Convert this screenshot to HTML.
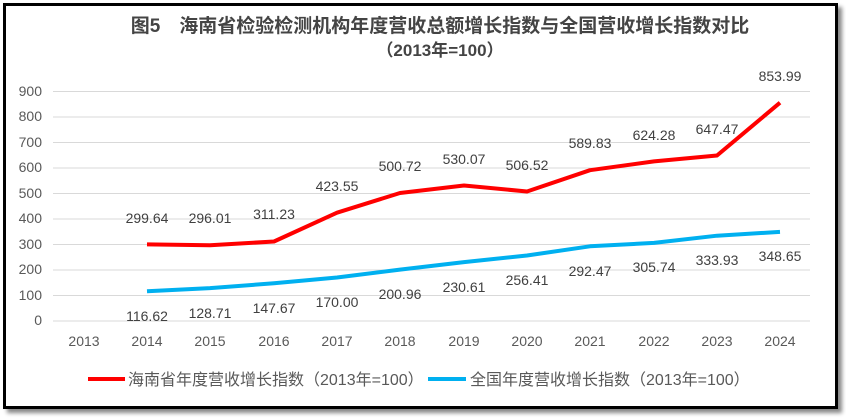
<!DOCTYPE html><html><head><meta charset="utf-8"><style>
body{margin:0;background:#fff;width:846px;height:419px;overflow:hidden}
.frame{position:absolute;left:3px;top:3px;width:829px;height:400px;border:3px solid #000;box-shadow:4px 4px 4px #888;background:#fff}
svg{position:absolute;left:0;top:0}
text{font-family:"Liberation Sans","Noto Sans CJK SC",sans-serif}
</style></head><body><div class="frame"></div>
<svg width="846" height="419">
<text x="440" y="32" text-anchor="middle" font-size="19" font-weight="bold" fill="#444" font-family="'Noto Serif CJK SC',serif">图5　海南省检验检测机构年度营收总额增长指数与全国营收增长指数对比</text>
<text x="440" y="56" text-anchor="middle" font-size="17" font-weight="bold" fill="#444" font-family="'Noto Serif CJK SC',serif">（2013年=100）</text>
<g stroke="#d9d9d9" stroke-width="1">
<line x1="53" x2="810" y1="91.5" y2="91.5"/><line x1="53" x2="810" y1="117" y2="117"/><line x1="53" x2="810" y1="142.5" y2="142.5"/><line x1="53" x2="810" y1="168" y2="168"/><line x1="53" x2="810" y1="193.5" y2="193.5"/><line x1="53" x2="810" y1="219" y2="219"/><line x1="53" x2="810" y1="244.5" y2="244.5"/><line x1="53" x2="810" y1="270" y2="270"/><line x1="53" x2="810" y1="295.5" y2="295.5"/><line x1="53" x2="810" y1="321" y2="321"/>
</g>
<g font-size="14" fill="#595959" text-anchor="end">
<text x="42" y="96">900</text><text x="42" y="121">800</text><text x="42" y="147">700</text><text x="42" y="172">600</text><text x="42" y="198">500</text><text x="42" y="223">400</text><text x="42" y="249">300</text><text x="42" y="274">200</text><text x="42" y="300">100</text><text x="42" y="325">0</text>
</g>
<g font-size="14" fill="#595959" text-anchor="middle">
<text x="84" y="346">2013</text><text x="147" y="346">2014</text><text x="210" y="346">2015</text><text x="274" y="346">2016</text><text x="337" y="346">2017</text><text x="400" y="346">2018</text><text x="464" y="346">2019</text><text x="527" y="346">2020</text><text x="590" y="346">2021</text><text x="654" y="346">2022</text><text x="717" y="346">2023</text><text x="780" y="346">2024</text>
</g>
<polyline fill="none" stroke="#ff0000" stroke-width="4" stroke-linejoin="round" points="147,244.4 210,245.3 274,241.5 337,212.7 400,193 464,185.5 527,191.5 590,170.2 654,161.4 717,155.5 780,102.7"/>
<polyline fill="none" stroke="#00b0f0" stroke-width="4" stroke-linejoin="round" points="147,291.2 210,288.1 274,283.3 337,277.5 400,269.6 464,262.1 527,255.5 590,246.3 654,242.9 717,235.7 780,231.9"/>
<g font-size="14" fill="#404040" text-anchor="middle">
<text x="147" y="223">299.64</text><text x="210" y="223">296.01</text><text x="274" y="219">311.23</text><text x="337" y="191">423.55</text><text x="400" y="171">500.72</text><text x="464" y="164">530.07</text><text x="527" y="170">506.52</text><text x="590" y="148">589.83</text><text x="654" y="140">624.28</text><text x="717" y="134">647.47</text><text x="780" y="81">853.99</text>
<text x="147" y="321">116.62</text><text x="210" y="318">128.71</text><text x="274" y="313">147.67</text><text x="337" y="307">170.00</text><text x="400" y="299">200.96</text><text x="464" y="292">230.61</text><text x="527" y="285">256.41</text><text x="590" y="276">292.47</text><text x="654" y="272">305.74</text><text x="717" y="265">333.93</text><text x="780" y="261">348.65</text>
</g>
<line x1="88" x2="125" y1="379" y2="379" stroke="#ff0000" stroke-width="4"/>
<text x="128" y="385" font-size="16" fill="#595959">海南省年度营收增长指数（2013年=100）</text>
<line x1="428" x2="466" y1="379" y2="379" stroke="#00b0f0" stroke-width="4"/>
<text x="470" y="385" font-size="16" fill="#595959">全国年度营收增长指数（2013年=100）</text>
</svg></body></html>
